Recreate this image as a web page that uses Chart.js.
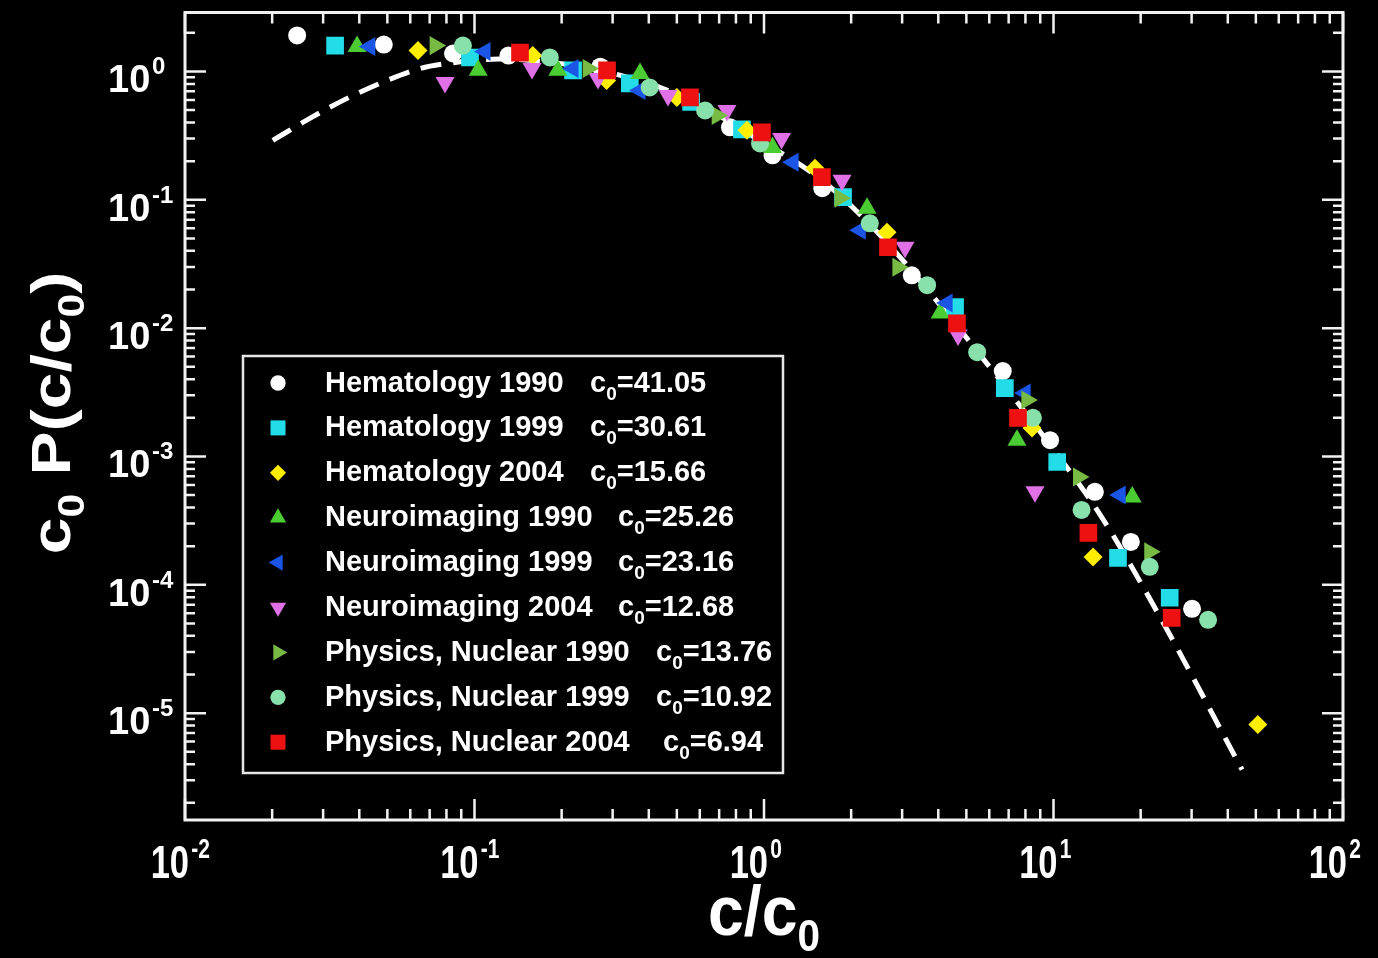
<!DOCTYPE html>
<html lang="en">
<head>
<meta charset="utf-8">
<title>c0 P(c/c0)</title>
<script src="https://cdn.jsdelivr.net/npm/chart.js@4.4.1/dist/chart.umd.min.js"></script>
<style>
  html, body { margin: 0; padding: 0; background: #000; }
  #grafico { display: block; }
</style>
</head>
<body>
<canvas id="grafico" width="1378" height="958"></canvas>
<script>
// Nombres de las series y su c0 (leyenda)
const series = ['Hematology 1990', 'Hematology 1999', 'Hematology 2004',
  'Neuroimaging 1990', 'Neuroimaging 1999', 'Neuroimaging 2004',
  'Physics, Nuclear 1990', 'Physics, Nuclear 1999', 'Physics, Nuclear 2004'];
const valoresC0 = ['41.05', '30.61', '15.66', '25.26', '23.16', '12.68', '13.76', '10.92', '6.94'];

// Datos: x = c/c0, y = c0 P(c/c0)
const hema1990X = [0.0244, 0.0486, 0.0843, 0.131, 0.272, 0.763, 1.07, 1.59, 3.24, 6.68, 9.73, 13.9, 18.5, 30.1];
const hema1990Y = [1.91, 1.62, 1.38, 1.33, 1.09, 0.367, 0.222, 0.123, 0.0258, 0.00463, 0.00134, 0.00053, 0.000216, 0.000065];

const hema1999X = [0.033, 0.0965, 0.219, 0.344, 0.56, 0.839, 1.875, 4.57, 6.79, 10.3, 16.7, 25.2];
const hema1999Y = [1.59, 1.285, 1.02, 0.807, 0.58, 0.354, 0.105, 0.0146, 0.00341, 0.000906, 0.000162, 0.0000793];

const hema2004X = [0.0638, 0.159, 0.286, 0.50, 0.873, 1.50, 2.66, 8.43, 13.7, 50.8];
const hema2004Y = [1.457, 1.33, 0.85, 0.628, 0.348, 0.176, 0.0558, 0.00167, 0.000165, 0.00000814];

const neuro1990X = [0.0393, 0.103, 0.194, 0.373, 1.07, 2.27, 4.06, 7.48, 18.7];
const neuro1990Y = [1.565, 1.02, 1.02, 0.965, 0.256, 0.0859, 0.0131, 0.00134, 0.000484];

const neuro1999X = [0.0435, 0.1087, 0.219, 0.373, 1.26, 2.15, 4.29, 7.98, 17.0];
const neuro1999Y = [1.565, 1.43, 1.055, 0.711, 0.196, 0.0579, 0.0157, 0.00312, 0.000501];

const neuro2004X = [0.0791, 0.158, 0.267, 0.466, 0.745, 1.15, 1.86, 3.07, 4.68, 8.63];
const neuro2004Y = [0.821, 1.055, 0.882, 0.650, 0.497, 0.301, 0.142, 0.0427, 0.00883, 0.00053];

const fis1990X = [0.0731, 0.247, 0.689, 1.83, 2.90, 8.09, 12.2, 21.5];
const fis1990Y = [1.59, 1.055, 0.454, 0.103, 0.0298, 0.00275, 0.000692, 0.000181];

const fis1999X = [0.0912, 0.182, 0.403, 0.626, 0.969, 2.32, 3.66, 5.45, 8.49, 12.5, 21.5, 34.2];
const fis1999Y = [1.59, 1.285, 0.751, 0.497, 0.275, 0.0656, 0.0216, 0.0065, 0.002, 0.000383, 0.000138, 0.0000534];

const fis2004X = [0.1436, 0.287, 0.555, 0.984, 1.585, 2.68, 4.64, 7.54, 13.2, 25.6];
const fis2004Y = [1.40, 1.02, 0.628, 0.335, 0.150, 0.0427, 0.0109, 0.0020, 0.000254, 0.0000553];

// Curva de ajuste (línea discontinua)
const curvaX = [0.0201, 0.027, 0.0363, 0.0499, 0.0649, 0.0804, 0.122, 0.18, 0.272, 0.513, 0.969, 1.585, 2.52, 4.06, 6.53, 9.73, 14.5, 23.3, 44.8];
const curvaY = [0.29, 0.431, 0.617, 0.851, 1.055, 1.154, 1.25, 1.18, 1.02, 0.65, 0.29, 0.142, 0.053, 0.0151, 0.00394, 0.00123, 0.000351, 0.0000564, 0.00000363];

// Exponentes de las etiquetas de los ejes
const decadasX = [-2, -1, 0, 1, 2];
const decadasY = [0, -1, -2, -3, -4, -5];

const todosX = [hema1990X, hema1999X, hema2004X, neuro1990X, neuro1999X, neuro2004X, fis1990X, fis1999X, fis2004X];
const todosY = [hema1990Y, hema1999Y, hema2004Y, neuro1990Y, neuro1999Y, neuro2004Y, fis1990Y, fis1999Y, fis2004Y];

// Estilo de cada serie
const colores = ['#ffffff', '#22dde8', '#ffee00', '#4ccc33', '#1a55e6', '#e070e6', '#77bb44', '#88e0aa', '#ee1111'];
const formas = ['circle', 'rect', 'rectRot', 'triangle', 'triangle', 'triangle', 'triangle', 'circle', 'rect'];
const giros = [0, 0, 0, 0, -90, 180, 90, 0, 0];
const radios = [9, 12.5, 9.5, 11, 11, 11, 11, 9, 12.5];

const FUENTE = '"Liberation Sans", Arial, sans-serif';

function aPuntos(xs, ys) {
  return xs.map((x, i) => ({ x: x, y: ys[i] }));
}

const datasets = series.map((nombre, i) => ({
  label: nombre,
  data: aPuntos(todosX[i], todosY[i]),
  backgroundColor: colores[i],
  borderWidth: 0,
  pointStyle: formas[i],
  pointRotation: giros[i],
  pointRadius: radios[i],
  order: 9 - i
}));

datasets.push({
  label: 'ajuste',
  data: aPuntos(curvaX, curvaY),
  showLine: true,
  borderColor: '#ffffff',
  borderWidth: 5,
  borderDash: [21, 12],
  pointRadius: 0,
  cubicInterpolationMode: 'monotone',
  order: 20
});

// Dibuja varios trozos de texto seguidos (para sub/superíndices)
function dibujarPartes(ctx, partes, x, y, alinear) {
  let ancho = 0;
  partes.forEach(p => { ctx.font = p.f; p.w = ctx.measureText(p.t).width; ancho += p.w; });
  let cx = alinear === 'center' ? x - ancho / 2 : x;
  ctx.textAlign = 'left';
  partes.forEach(p => {
    ctx.font = p.f;
    ctx.fillText(p.t, cx, y + (p.dy || 0));
    cx += p.w;
  });
}

const marco = {
  id: 'marco',
  afterDraw(chart) {
    const ctx = chart.ctx;
    const { left, right, top, bottom } = chart.chartArea;
    const ex = chart.scales.x, ey = chart.scales.y;
    ctx.save();
    ctx.strokeStyle = '#f2f2f2';
    ctx.fillStyle = '#ffffff';

    // marco
    ctx.lineWidth = 3;
    ctx.strokeRect(left, top, right - left, bottom - top);

    // marcas del eje x (arriba y abajo, hacia dentro)
    ctx.lineWidth = 2.5;
    for (let e = -2; e <= 2; e++) {
      for (let m = 1; m <= 9; m++) {
        const v = m * Math.pow(10, e);
        if (v < ex.min * 0.999 || v > ex.max * 1.001) continue;
        const px = ex.getPixelForValue(v);
        const largo = m === 1 ? 21 : 11;
        ctx.beginPath();
        ctx.moveTo(px, bottom); ctx.lineTo(px, bottom - largo);
        ctx.moveTo(px, top); ctx.lineTo(px, top + largo);
        ctx.stroke();
      }
    }
    // marcas del eje y (izquierda y derecha)
    for (let e = -6; e <= 0; e++) {
      for (let m = 1; m <= 9; m++) {
        const v = m * Math.pow(10, e);
        if (v < ey.min || v > ey.max) continue;
        const py = ey.getPixelForValue(v);
        const largo = m === 1 ? 21 : 10;
        ctx.beginPath();
        ctx.moveTo(left, py); ctx.lineTo(left + largo, py);
        ctx.moveTo(right, py); ctx.lineTo(right - largo, py);
        ctx.stroke();
      }
    }

    // etiquetas del eje x: 10^n (algo estrechas)
    decadasX.forEach(n => {
      const px = ex.getPixelForValue(Math.pow(10, n));
      ctx.save();
      ctx.translate(px + 4, 878);
      ctx.scale(0.75, 1);
      ctx.font = 'bold 46px ' + FUENTE;
      ctx.textAlign = 'right';
      ctx.fillText('10', 0, 0);
      ctx.font = 'bold 28px ' + FUENTE;
      ctx.textAlign = 'left';
      ctx.fillText(String(n), 3, -20);
      ctx.restore();
    });

    // etiquetas del eje y
    decadasY.forEach(n => {
      const py = ey.getPixelForValue(Math.pow(10, n));
      ctx.font = 'bold 38px ' + FUENTE;
      ctx.textAlign = 'left';
      ctx.fillText('10', 108, py + 21);
      ctx.font = 'bold 24px ' + FUENTE;
      ctx.fillText(String(n), 152, py + 3);
    });

    // título del eje x: c/c0
    ctx.save();
    ctx.translate(764, 935);
    ctx.scale(0.92, 1);
    dibujarPartes(ctx, [
      { t: 'c/c', f: 'bold 70px ' + FUENTE },
      { t: '0', f: 'bold 44px ' + FUENTE, dy: 16 }
    ], 0, 0, 'center');
    ctx.restore();

    // título del eje y: c0 P(c/c0)
    ctx.save();
    ctx.translate(70, 413);
    ctx.rotate(-Math.PI / 2);
    ctx.scale(1.18, 1);
    dibujarPartes(ctx, [
      { t: 'c', f: 'bold 56px ' + FUENTE },
      { t: '0', f: 'bold 36px ' + FUENTE, dy: 14 },
      { t: ' P(c/c', f: 'bold 56px ' + FUENTE },
      { t: '0', f: 'bold 36px ' + FUENTE, dy: 14 },
      { t: ')', f: 'bold 56px ' + FUENTE }
    ], 0, 0, 'center');
    ctx.restore();

    // leyenda
    ctx.fillStyle = '#000000';
    ctx.fillRect(243, 356, 540, 417);
    ctx.strokeStyle = '#e6e6e6';
    ctx.lineWidth = 2.5;
    ctx.strokeRect(243, 356, 540, 417);
    const posC = [590, 590, 590, 618, 618, 618, 656, 656, 663];
    series.forEach((nombre, i) => {
      const yc = 381 + i * 44.9;
      ctx.fillStyle = colores[i];
      Chart.helpers.drawPoint(ctx, {
        pointStyle: formas[i], rotation: giros[i], radius: radios[i] * 0.85, borderWidth: 0
      }, 278, yc + 2);
      ctx.fillStyle = '#ffffff';
      ctx.font = 'bold 29px ' + FUENTE;
      ctx.textAlign = 'left';
      ctx.fillText(nombre, 325, yc + 10.5);
      dibujarPartes(ctx, [
        { t: 'c', f: 'bold 29px ' + FUENTE },
        { t: '0', f: 'bold 19px ' + FUENTE, dy: 8 },
        { t: '=' + valoresC0[i], f: 'bold 29px ' + FUENTE }
      ], posC[i], yc + 10.5, 'left');
    });
    ctx.restore();
  }
};

const ctx = document.getElementById('grafico').getContext('2d');
window.miGrafico = new Chart(ctx, {
  type: 'scatter',
  data: { datasets: datasets },
  options: {
    responsive: false,
    animation: false,
    devicePixelRatio: 1,
    layout: { padding: { left: 185, right: 35, top: 12, bottom: 138 } },
    plugins: { legend: { display: false }, tooltip: { enabled: false } },
    scales: {
      x: { type: 'logarithmic', min: 0.01, max: 100, display: false },
      y: { type: 'logarithmic', min: 1.47e-6, max: 2.88, display: false }
    }
  },
  plugins: [marco]
});
</script>
</body>
</html>
